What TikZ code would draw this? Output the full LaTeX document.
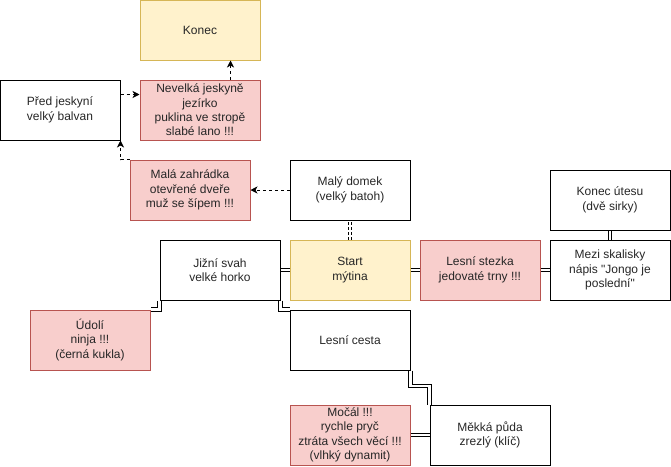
\documentclass[tikz,border=0pt]{standalone}
\usepackage{fontspec}
\setmainfont{Liberation Sans}[Ligatures = TeXOff]
\usepackage{tikz}
\usetikzlibrary{calc}
\usetikzlibrary{arrows.meta}

\definecolor{startfill}{HTML}{FFF2CC}
\definecolor{startdraw}{HTML}{D6B656}
\definecolor{dangerfill}{HTML}{F8CECC}
\definecolor{dangerdraw}{HTML}{B85450}

\tikzset{
	place/.style = {draw, line width = 1pt, minimum width = 120, minimum height = 60, inner sep = 0pt, align = center, text = black!85, font = \fontsize{12}{14.4}\selectfont},
	startplace/.style = {place, fill = startfill, draw = startdraw},
	danger/.style = {place, fill = dangerfill, draw = dangerdraw},
	link/.style = {double, double distance = 2.5pt, line width = 1pt},
	hint/.style = {dashed, dash pattern = on 3pt off 3pt, line width = 0.8pt, -{Stealth[length = 7pt, width = 7pt, inset = 2pt]}}
}

\begin{document}
\begin{tikzpicture}[x = 1pt, y = -1pt]
				\useasboundingbox (0, 0) rectangle (671, 466);

				\node[startplace](konec) at (200, 30){Konec};
				\node[place](pred) at (60, 110){Před jeskyní\\velký balvan};
				\node[danger](jezirko) at (200, 110){Nevelká jeskyně\\jezírko\\puklina ve stropě\\slabé lano !!!};
				\node[danger](zahradka) at (190, 190){Malá zahrádka\\otevřené dveře\\muž se šípem !!!};
				\node[place](domek) at (350, 190){Malý domek\\(velký batoh)};
				\node[place](utes) at (610, 200){Konec útesu\\(dvě sirky)};
				\node[place](svah) at (220, 270){Jižní svah\\velké horko};
				\node[startplace](start) at (350, 270){Start\\mýtina};
				\node[danger](stezka) at (480, 270){Lesní stezka\\jedovaté trny !!!};
				\node[place](skaliska) at (610, 270){Mezi skalisky\\nápis "Jongo je\\poslední"};
				\node[danger](udoli) at (90, 340){Údolí\\ninja !!!\\(černá kukla)};
				\node[place](cesta) at (350, 340){Lesní cesta};
				\node[danger](mocal) at (350, 435){Močál !!!\\rychle pryč\\ztráta všech věcí !!!\\(vlhký dynamit)};
				\node[place](puda) at (490, 435){Měkká půda\\zrezlý (klíč)};

				\draw[link] (svah.east)--(start.west);
				\draw[link] (start.east)--(stezka.west);
				\draw[link] (stezka.east)--(skaliska.west);
				\draw[link] (skaliska.north)--(utes.south);
				\draw[link, dashed, dash pattern = on 3pt off 2pt] (start.north)--(domek.south);
				\draw[link] (svah.south east) |- (cesta.north west);
				\draw[link] (svah.south west) |- (udoli.north east);
				\draw[link] (cesta.south east) |- ($(cesta.south east)!0.45!(puda.north west)$) -| (puda.north west);
				\draw[link] (puda.west)--(mocal.east);

				\draw[hint] (domek.west)--(zahradka.east);
				\draw[hint] (zahradka.north west) -| (pred.south east);
				\draw[hint] ([yshift = -15]pred.north east)--([yshift = -15]jezirko.north west);
				\draw[hint] ([xshift = -30]jezirko.north east)--([xshift = -30]konec.south east);
			\end{tikzpicture}
\end{document}
